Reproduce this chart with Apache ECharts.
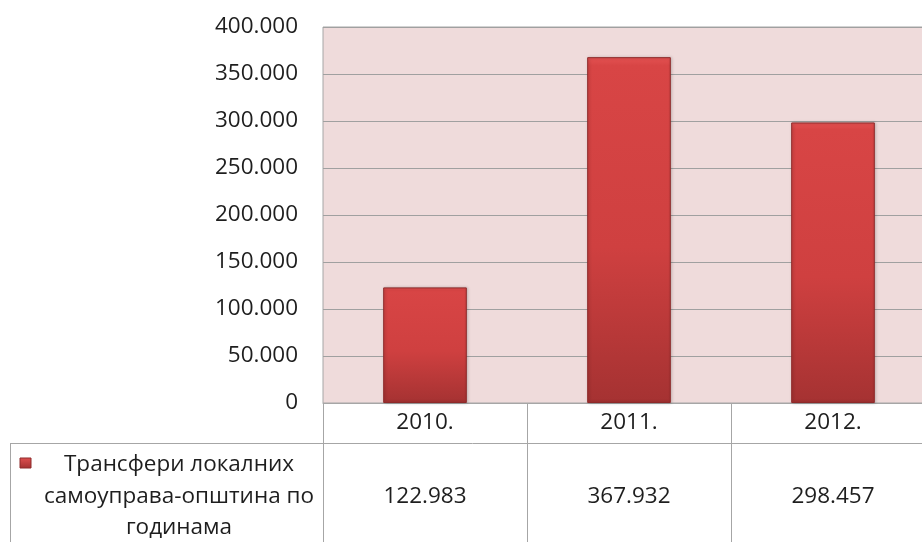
<!DOCTYPE html>
<html>
<head>
<meta charset="utf-8">
<script src="https://cdn.jsdelivr.net/npm/echarts@6/dist/echarts.min.js"></script>
<style>
html,body{margin:0;padding:0;background:#fff;overflow:hidden;}
#chart{width:935px;height:542px;}
</style>
</head>
<body>
<div id="chart"></div>
<script>
var categories = ['2010.', '2011.', '2012.'];
var values = [122983, 367932, 298457];
var seriesName = 'Трансфери локалних\nсамоуправа-општина по\nгодинама';
var yTicks = {min: 0, max: 400000, interval: 50000};

function fmt(v) {
  return String(v).replace(/\B(?=(\d{3})+(?!\d))/g, '.');
}

var FONT = 'Open Sans';
var FS = 22.5;
var chart = echarts.init(document.getElementById('chart'));
chart.setOption({
  backgroundColor: '#ffffff',
  animation: false,
  grid: {
    left: 323, top: 27, right: 0, height: 376,
    show: true, backgroundColor: '#efdbdb', borderColor: '#a6a6a6', borderWidth: 1
  },
  xAxis: [{
    type: 'category',
    data: categories,
    position: 'bottom',
    axisLine: {show: true, lineStyle: {color: '#a6a6a6', width: 1}},
    axisTick: {show: true, length: 139, lineStyle: {color: '#a6a6a6', width: 1}},
    axisLabel: {color: '#1e1e1e', fontFamily: FONT, fontSize: FS, margin: 8}
  }, {
    type: 'category',
    data: categories,
    position: 'bottom',
    offset: 82,
    axisLine: {show: false},
    axisTick: {show: false},
    axisLabel: {
      color: '#1e1e1e', fontFamily: FONT, fontSize: FS, margin: 0,
      formatter: function (v, i) { return fmt(values[i]); }
    }
  }],
  yAxis: {
    type: 'value',
    min: yTicks.min, max: yTicks.max, interval: yTicks.interval,
    axisLine: {show: false},
    axisTick: {show: false},
    splitLine: {lineStyle: {color: '#a0a0a0', width: 1}},
    axisLabel: {
      color: '#1e1e1e', fontFamily: FONT, fontSize: FS, margin: 25,
      formatter: function (v) { return fmt(v); }
    }
  },
  series: [{
    name: seriesName,
    type: 'bar',
    data: values,
    barWidth: '41%',
    itemStyle: {
      color: new echarts.graphic.LinearGradient(0, 0, 0, 1, [
        {offset: 0, color: '#e45252'},
        {offset: 0.025, color: '#d84545'},
        {offset: 0.55, color: '#cf4040'},
        {offset: 1, color: '#a53232'}
      ]),
      borderColor: '#8e2a2a',
      borderWidth: 1,
      shadowColor: 'rgba(0,0,0,0.25)',
      shadowBlur: 3,
      shadowOffsetX: 1,
      shadowOffsetY: 0
    }
  }],
  graphic: [
    {type: 'line', shape: {x1: 10, y1: 443.5, x2: 935, y2: 443.5}, style: {stroke: '#a6a6a6', lineWidth: 1}},
    {type: 'line', shape: {x1: 10.5, y1: 443, x2: 10.5, y2: 542}, style: {stroke: '#a6a6a6', lineWidth: 1}},
    {type: 'rect', shape: {x: 20, y: 458, width: 11, height: 10},
      style: {fill: new echarts.graphic.LinearGradient(0, 0, 0, 1, [{offset: 0, color: '#e05050'}, {offset: 1, color: '#a33131'}]), stroke: '#8e2a2a', lineWidth: 1}},
    {type: 'text', x: 179, y: 449,
      style: {text: seriesName, fill: '#1e1e1e', font: '22.5px "Open Sans"', align: 'center', verticalAlign: 'top', lineHeight: 31.5}}
  ]
});
</script>
</body>
</html>
